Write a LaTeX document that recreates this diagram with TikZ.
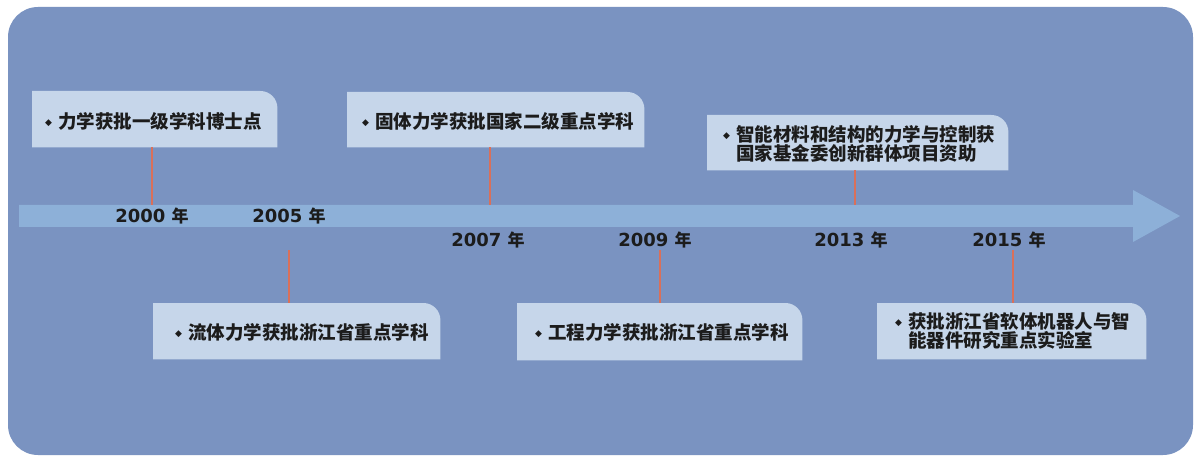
\documentclass[tikz,border=0pt]{standalone}
\usepackage{fontspec}
\newfontfamily\cjk{Noto Sans CJK SC}
\newfontfamily\dvs{DejaVu Sans}
\usetikzlibrary{calc}
\definecolor{bgblue}{HTML}{7A93C1}
\definecolor{bandblue}{HTML}{8DB0D8}
\definecolor{boxblue}{HTML}{C6D6EA}
\definecolor{tickred}{HTML}{D9705A}
\definecolor{ink}{HTML}{1C1C1C}
\newcommand{\bul}{\makebox[13pt][l]{\raisebox{3pt}{\dvs\fontsize{9}{9}\selectfont ◆}}}
\newcommand{\yr}[1]{{\dvs\bfseries\fontsize{18}{18}\selectfont #1~}{\cjk\bfseries\fontsize{17}{17}\selectfont 年}}
\newcommand{\tabfill}[1]{\fill[boxblue] (#1.south west) -- (#1.north west) -- ([xshift=-17pt]#1.north east) arc[start angle=90,end angle=0,radius=17pt] -- (#1.south east) -- cycle;}
\tikzset{
  boxshape/.style={rectangle, inner sep=0pt, anchor=north west},
  boxtext/.style={anchor=west, inner sep=0pt, align=left, text=ink, font=\cjk\bfseries\fontsize{18.5}{19.5}\selectfont},
  yearlabel/.style={text=ink, inner sep=0pt},
  tick/.style={draw=tickred, line width=1.8pt},
}
\begin{document}
\begin{tikzpicture}[x=1pt,y=1pt]
\useasboundingbox (0,0) rectangle (1195,456);
% background
\fill[bgblue, rounded corners=30pt] (8,1) rectangle (1193,449);
% timeline arrow
\fill[bandblue] (19,251) -- (1133,251) -- (1133,266) -- (1180,240) -- (1133,214) -- (1133,229) -- (19,229) -- cycle;
% year labels
\node[yearlabel] (l2000) at (152,240) {\yr{2000}};
\node[yearlabel] (l2005) at (289,240) {\yr{2005}};
\node[yearlabel] (l2007) at (488,216) {\yr{2007}};
\node[yearlabel] (l2009) at (655,216) {\yr{2009}};
\node[yearlabel] (l2013) at (851,216) {\yr{2013}};
\node[yearlabel] (l2015) at (1009,216) {\yr{2015}};
% tick end points
\coordinate (c2000) at (152,251);
\coordinate (c2007) at (490,251);
\coordinate (c2013) at (855,251);
\coordinate (c2005) at (289,206);
\coordinate (c2009) at (660,206);
\coordinate (c2015) at (1013,206);
% boxes
\node[boxshape, minimum width=245pt, minimum height=56pt] (b1) at (32,365) {};
\node[boxshape, minimum width=297pt, minimum height=55pt] (b2) at (347,364) {};
\node[boxshape, minimum width=301pt, minimum height=55pt] (b3) at (707,341) {};
\node[boxshape, minimum width=287pt, minimum height=56pt] (b4) at (153,153) {};
\node[boxshape, minimum width=285pt, minimum height=57pt] (b5) at (517,153) {};
\node[boxshape, minimum width=269pt, minimum height=56pt] (b6) at (877,153) {};
\tabfill{b1}\tabfill{b2}\tabfill{b3}\tabfill{b4}\tabfill{b5}\tabfill{b6}
% connectors
\draw[tick] (b1.south -| c2000) -- (c2000);
\draw[tick] (b2.south -| c2007) -- (c2007);
\draw[tick] (b3.south -| c2013) -- (c2013);
\draw[tick] (c2005) -- (c2005 |- b4.north);
\draw[tick] (c2009) -- (c2009 |- b5.north);
\draw[tick] (c2015) -- (c2015 |- b6.north);
% texts
\node[boxtext] (t1) at ([xshift=13pt,yshift=-2pt]b1.west) {\bul 力学获批一级学科博士点};
\node[boxtext] (t2) at ([xshift=15pt,yshift=-2pt]b2.west) {\bul 固体力学获批国家二级重点学科};
\node[boxtext] (t3) at ([xshift=16pt,yshift=-1pt]b3.west) {\bul 智能材料和结构的力学与控制获\\\hspace*{13pt}国家基金委创新群体项目资助};
\node[boxtext] (t4) at ([xshift=22pt,yshift=-1pt]b4.west) {\bul 流体力学获批浙江省重点学科};
\node[boxtext] (t5) at ([xshift=18pt,yshift=-1pt]b5.west) {\bul 工程力学获批浙江省重点学科};
\node[boxtext] (t6) at ([xshift=18pt]b6.west) {\bul 获批浙江省软体机器人与智\\\hspace*{13pt}能器件研究重点实验室};
\end{tikzpicture}
\end{document}
